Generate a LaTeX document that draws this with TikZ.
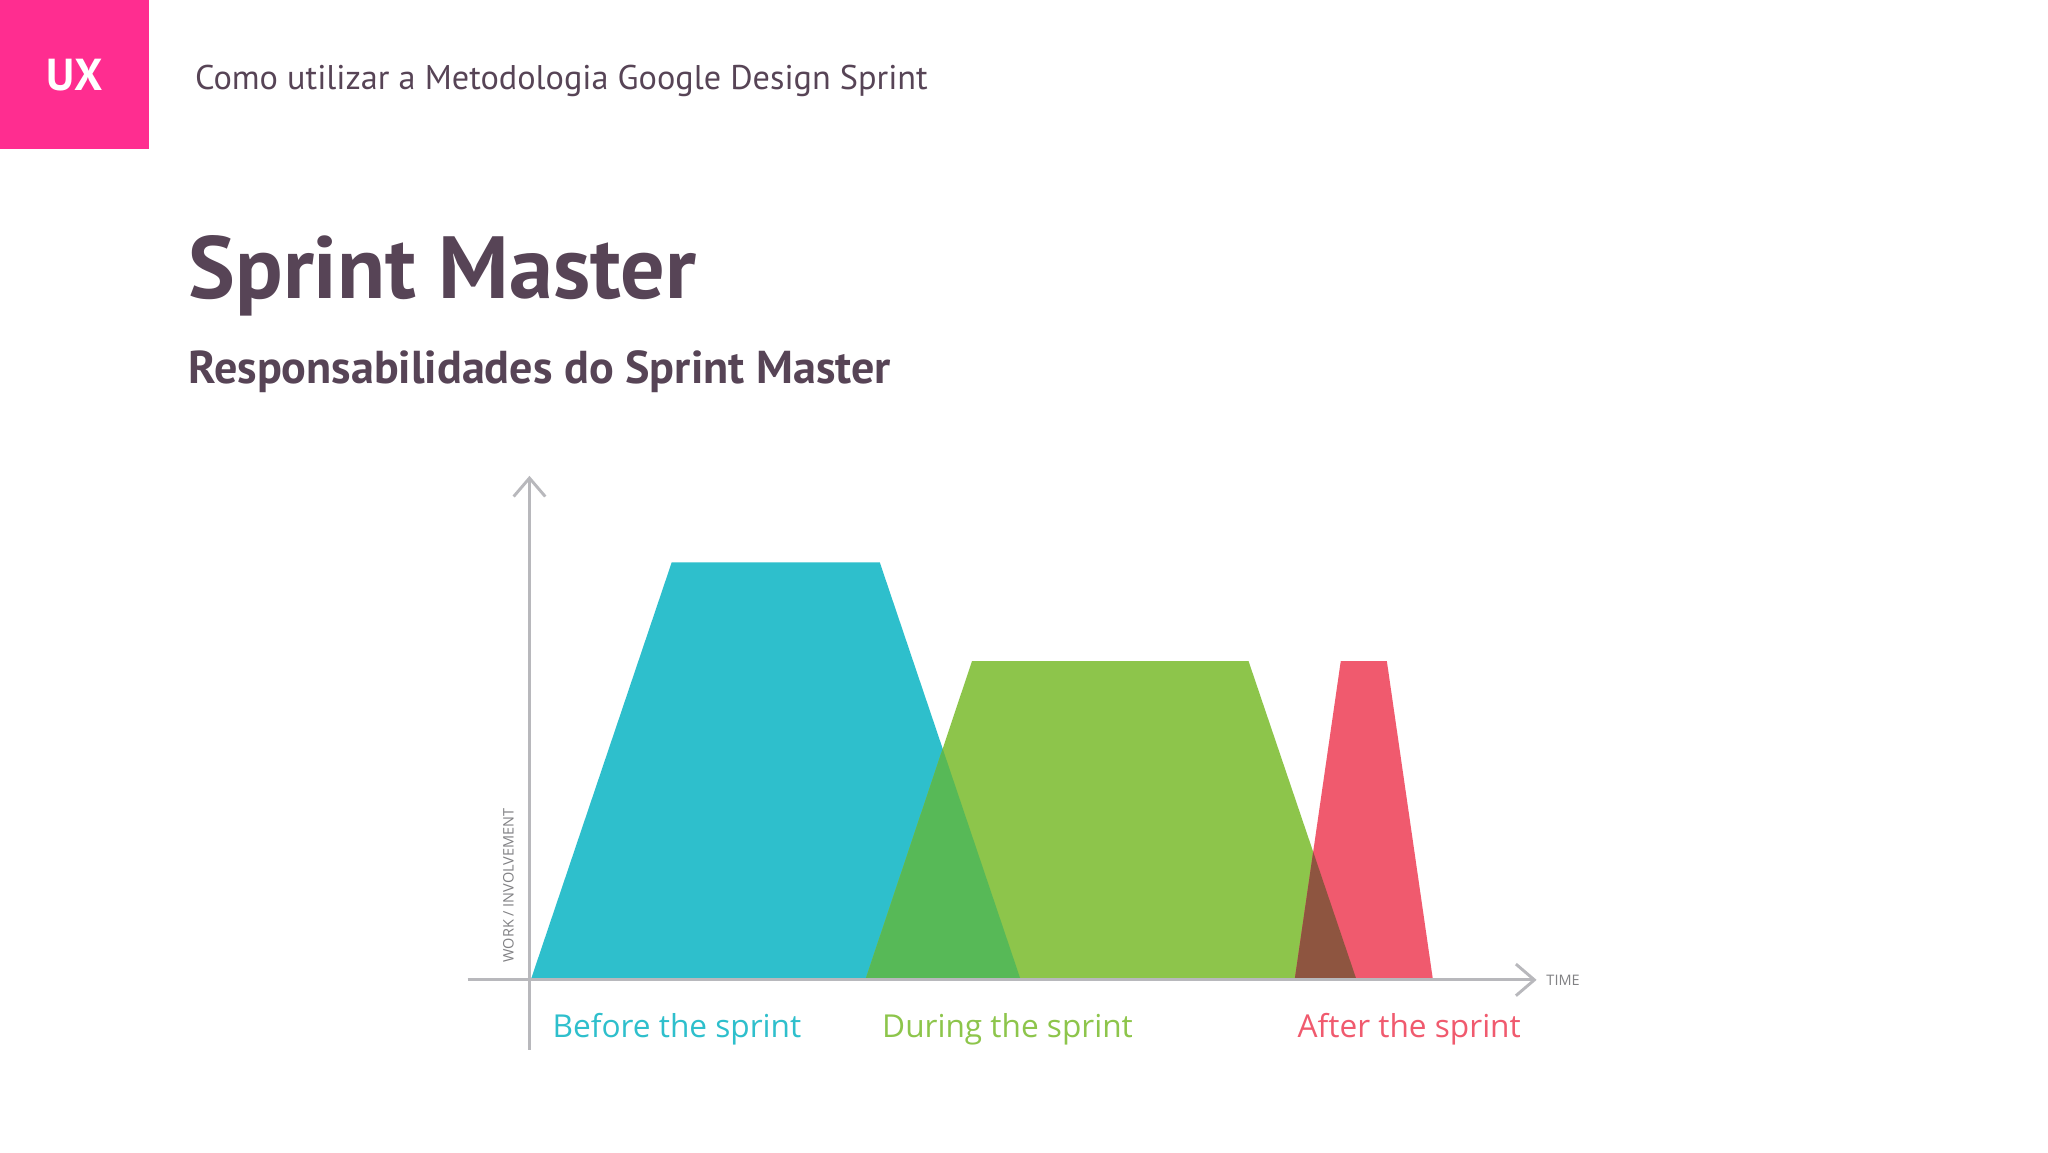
\documentclass[tikz,border=0pt]{standalone}
\usepackage{fontspec}
\setmainfont{PT Sans}
\newfontfamily\lab{Open Sans}
\begin{document}
\begin{tikzpicture}[x=1pt,y=-1pt]
\definecolor{pinkux}{HTML}{FF2D90}
\definecolor{darkt}{HTML}{574456}
\definecolor{cblue}{HTML}{2EBFCC}
\definecolor{cgreen}{HTML}{8DC54B}
\definecolor{cred}{HTML}{F05A6E}
\definecolor{cbg}{HTML}{57B957}
\definecolor{cgr}{HTML}{8E5540}
\definecolor{axis}{HTML}{B8B8BC}
\tikzset{txt/.style={inner sep=0pt,anchor=base west,text=darkt},
 axl/.style={draw=axis,line width=2.2pt},
 lbl/.style={inner sep=0pt,anchor=base,font=\lab\fontsize{24}{24}\selectfont}}
\useasboundingbox (0,0) rectangle (1555,875);
\fill[white] (0,0) rectangle (1555,875);
\fill[pinkux] (0,0) rectangle (113,113);
\node[inner sep=0pt,text=white,font=\bfseries\fontsize{34}{34}\selectfont] (ux) at (56.5,57) {UX};
\node[txt,font=\fontsize{26}{26}\selectfont] (hdr) at (148,68) {Como utilizar a Metodologia Google Design Sprint};
\node[txt,font=\bfseries\fontsize{67}{67}\selectfont] (title) at (143,227) {Sprint Master};
\node[txt,font=\bfseries\fontsize{35}{35}\selectfont] (sub) at (143,291) {Responsabilidades do Sprint Master};
% shapes
\fill[cblue] (403,744)--(510,427)--(668,427)--(775,744)--cycle;
\fill[cgreen] (657,744)--(738,502)--(948,502)--(1030,744)--cycle;
\fill[cred] (983,744)--(1018,502)--(1053,502)--(1088,744)--cycle;
\begin{scope}
\clip (403,744)--(510,427)--(668,427)--(775,744)--cycle;
\fill[cbg] (657,744)--(738,502)--(948,502)--(1030,744)--cycle;
\end{scope}
\begin{scope}
\clip (657,744)--(738,502)--(948,502)--(1030,744)--cycle;
\fill[cgr] (983,744)--(1018,502)--(1053,502)--(1088,744)--cycle;
\end{scope}
% axes
\coordinate (y0) at (402,797); \coordinate (y1) at (402,363);
\coordinate (x0) at (355,744); \coordinate (x1) at (1165,744);
\draw[axl] (y0)--(y1);
\draw[axl] (390,377)--(y1)--(414,377);
\draw[axl] (x0)--(x1);
\draw[axl] (1151,732)--(x1)--(1151,756);
\node[inner sep=0pt,text=axis!70!black,font=\lab\fontsize{11}{11}\selectfont,anchor=west] (time) at (1174,744) {TIME};
\node[inner sep=0pt,text=axis!70!black,font=\lab\fontsize{11}{11}\selectfont,rotate=90,anchor=west] (work) at (386,731) {WORK / INVOLVEMENT};
\node[lbl,text=cblue] (b) at (514,788) {Before the sprint};
\node[lbl,text=cgreen] (d) at (765,788) {During the sprint};
\node[lbl,text=cred] (a) at (1070,788) {After the sprint};
\end{tikzpicture}
\end{document}
